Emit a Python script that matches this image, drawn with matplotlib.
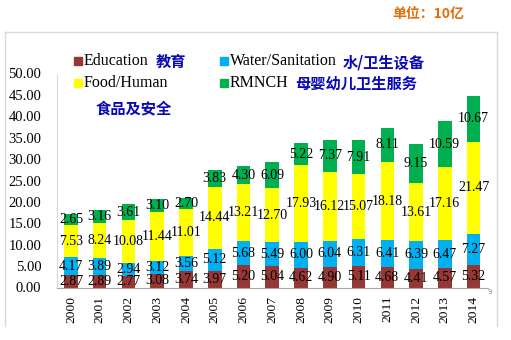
import matplotlib
matplotlib.use("Agg")
import matplotlib.pyplot as plt
from matplotlib.patches import Rectangle
from matplotlib.lines import Line2D
import numpy as np

years = ["2000", "2001", "2002", "2003", "2004", "2005", "2006", "2007",
         "2008", "2009", "2010", "2011", "2012", "2013", "2014"]
education = [2.87, 2.89, 2.77, 3.08, 3.74, 3.97, 5.20, 5.04, 4.62, 4.90, 5.11, 4.68, 4.41, 4.57, 5.32]
water = [4.17, 3.89, 2.94, 3.12, 3.56, 5.12, 5.68, 5.49, 6.00, 6.04, 6.31, 6.41, 6.39, 6.47, 7.27]
food = [7.53, 8.24, 10.08, 11.44, 11.01, 14.44, 13.21, 12.70, 17.93, 16.12, 15.07, 18.18, 13.61, 17.16, 21.47]
rmnch = [2.65, 3.16, 3.61, 3.10, 2.70, 3.83, 4.30, 6.09, 5.22, 7.37, 7.91, 8.11, 9.15, 10.59, 10.67]
yticks = [0, 5, 10, 15, 20, 25, 30, 35, 40, 45, 50]

series = [education, water, food, rmnch]
colors = ["#953735", "#00B0F0", "#FFFF00", "#00B050"]

W, H = 511, 340
fig = plt.figure(figsize=(W / 100, H / 100), dpi=100)

def fx(px):
    return px / W

def fy(py):
    return 1 - py / H

ax = fig.add_axes([fx(56.6), fy(287.5), fx(487.9) - fx(56.6), fy(73.5) - fy(287.5)])
x = np.arange(len(years))
bottom = np.zeros(len(years))
serif = "Liberation Serif"
for vals, c in zip(series, colors):
    v = np.array(vals)
    ax.bar(x, v, width=0.47, bottom=bottom, color=c, linewidth=0, zorder=2)
    for xi, b, val in zip(x, bottom, v):
        ax.text(xi, b + val / 2, f"{val:.2f}", ha="center", va="center",
                fontsize=10, family=serif, color="black", zorder=3)
    bottom = bottom + v

ax.set_xlim(-0.5, len(years) - 0.5)
ax.set_ylim(0, 50)
ax.set_yticks(yticks)
ax.set_yticklabels([f"{t:.2f}" for t in yticks], family=serif, fontsize=10.5)
ax.set_xticks(x)
ax.set_xticklabels(years, rotation=90, family=serif, fontsize=9.7)
ax.tick_params(axis="y", length=0, pad=11)
ax.tick_params(axis="x", length=0, pad=6)
for s in ["top", "right"]:
    ax.spines[s].set_visible(False)
ax.spines["left"].set_color("#D9D9D9")
ax.spines["bottom"].set_color("#A6A6A6")
ax.spines["left"].set_linewidth(0.8)
ax.spines["bottom"].set_linewidth(0.8)
ax.patch.set_alpha(0)

# outer box
for xs, ys in [([5, 497], [32, 32]), ([5, 5], [32, 326]), ([497, 497], [32, 326])]:
    fig.add_artist(Line2D([fx(v) for v in xs], [fy(v) for v in ys],
                          color="#D9D9D9", linewidth=1))

# title
fig.text(fx(392), fy(14), "单位：10亿", family=["Noto Sans CJK SC", "DejaVu Sans"],
         fontsize=10, fontweight="bold", color="#E46C0A", ha="left", va="center")

# legend
cjk = ["Noto Sans CJK SC", "DejaVu Sans"]
blue = "#0A0AB4"
legend_items = [
    (74, 61, colors[0], "Education", 156, "教育"),
    (220, 61, colors[1], "Water/Sanitation", 343, "水/卫生设备"),
    (74, 83, colors[2], "Food/Human", None, None),
    (220, 83, colors[3], "RMNCH", 295, "母婴幼儿卫生服务"),
]
for sx, sy, c, en, cx, zh in legend_items:
    fig.add_artist(Rectangle((fx(sx), fy(sy + 4)), 8 / W, 8 / H, color=c,
                             transform=fig.transFigure))
    fig.text(fx(sx + 10), fy(sy), en, family=serif, fontsize=11.5,
             color="black", ha="left", va="center")
    if zh:
        fig.text(fx(cx), fy(sy + 1), zh, family=cjk, fontsize=11,
                 fontweight="bold", color=blue, ha="left", va="center")
fig.text(fx(96), fy(108), "食品及安全", family=cjk, fontsize=11,
         fontweight="bold", color=blue, ha="left", va="center")

fig.text(fx(490), fy(292), "9", fontsize=5, color="#888888", ha="center", va="center")

fig.savefig("out.png", dpi=100)
